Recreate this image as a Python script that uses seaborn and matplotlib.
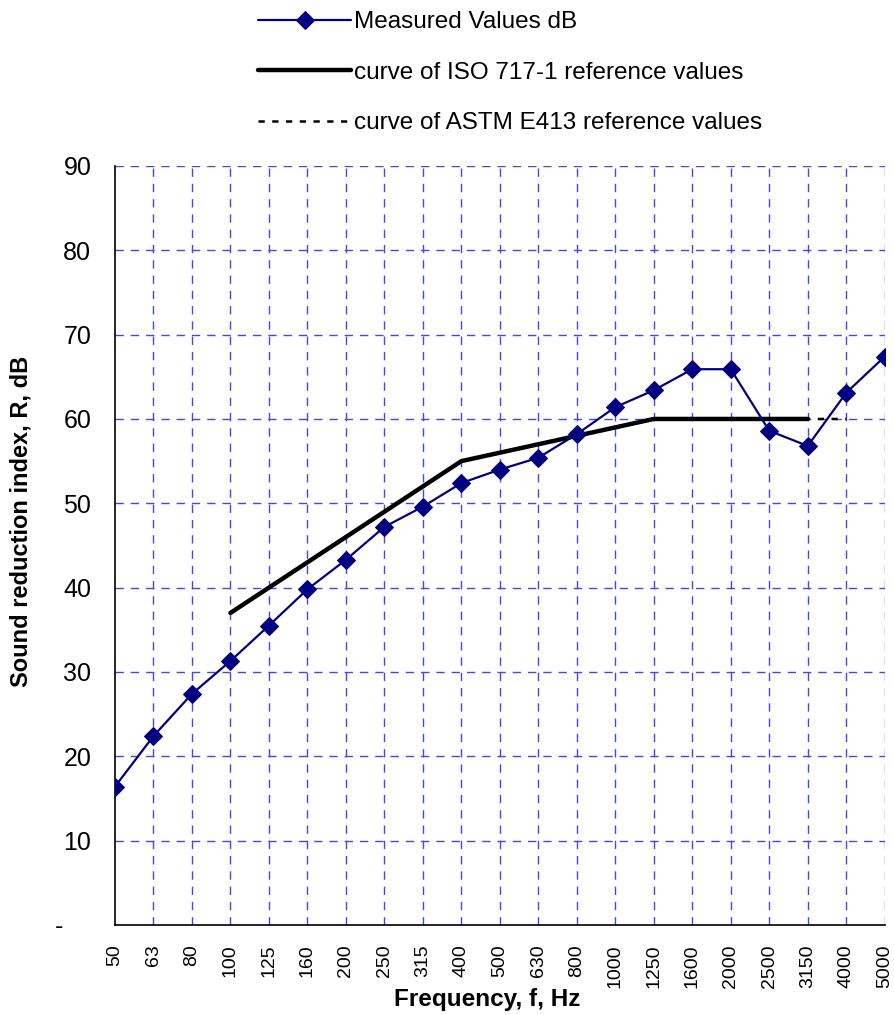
import numpy as np
import pandas as pd
import matplotlib
matplotlib.use("Agg")
import matplotlib.pyplot as plt
import seaborn as sns
from matplotlib.ticker import MultipleLocator

# data
freqs = ["50", "63", "80", "100", "125", "160", "200", "250", "315", "400", "500",
         "630", "800", "1000", "1250", "1600", "2000", "2500", "3150", "4000", "5000"]
measured = [16.4, 22.4, 27.4, 31.3, 35.5, 39.8, 43.3, 47.2, 49.6, 52.4, 54.0,
            55.4, 58.2, 61.4, 63.4, 65.9, 65.9, 58.6, 56.8, 63.1, 67.4]

iso_freqs = ["100", "125", "160", "200", "250", "315", "400", "500", "630", "800",
             "1000", "1250", "1600", "2000", "2500", "3150"]
iso_values = [37, 40, 43, 46, 49, 52, 55, 56, 57, 58, 59, 60, 60, 60, 60, 60]

astm_freqs = ["125", "160", "200", "250", "315", "400", "500", "630", "800", "1000",
              "1250", "1600", "2000", "2500", "3150", "4000"]
astm_values = [40, 43, 46, 49, 52, 55, 56, 57, 58, 59, 60, 60, 60, 60, 60, 60]

y_ticks = [0, 10, 20, 30, 40, 50, 60, 70, 80, 90]
y_labels = ["-    ", "10", "20", "30", "40", "50", "60", "70", "80", "90"]


def to_frame(labels, values):
    pos = [freqs.index(f) for f in labels]
    return pd.DataFrame({"pos": pos, "value": values})


df_meas = to_frame(freqs, measured)
df_iso = to_frame(iso_freqs, iso_values)
df_astm = to_frame(astm_freqs, astm_values)

sns.set_style("white")
plt.rcParams["font.family"] = ["Liberation Sans", "DejaVu Sans"]
plt.rcParams["text.color"] = "black"
plt.rcParams["xtick.color"] = "black"
plt.rcParams["ytick.color"] = "black"
plt.rcParams["xtick.labelcolor"] = "black"
plt.rcParams["ytick.labelcolor"] = "black"

fig = plt.figure(figsize=(8.94, 10.15), dpi=100)
ax = fig.add_axes([0.1286, 0.0887, 0.861, 0.7478])

grid_color = "#4646e6"
for i in range(1, len(freqs)):
    ax.axvline(i, color=grid_color, lw=1, ls=(0, (6, 5)), zorder=0)
for y in y_ticks[1:]:
    ax.axhline(y, color=grid_color, lw=1, ls=(0, (6, 5)), zorder=0)

sns.lineplot(data=df_iso, x="pos", y="value", ax=ax, color="black", lw=3.2,
             label="curve of ISO 717-1 reference values", zorder=3)
sns.lineplot(data=df_astm, x="pos", y="value", ax=ax, color="black", lw=1.8,
             ls=(0, (2.5, 3)), label="curve of ASTM E413 reference values", zorder=3)
sns.lineplot(data=df_meas, x="pos", y="value", ax=ax, color="#000080", lw=1.6,
             marker="D", markersize=9, markeredgecolor="#000080",
             label="Measured Values dB", zorder=4)

ax.set_xlim(0, len(freqs) - 1)
ax.set_ylim(0, 90)
ax.set_xticks(range(len(freqs)))
ax.set_xticklabels(freqs, rotation=90, family=["Liberation Sans Narrow", "Liberation Sans"],
                   fontsize=14)
ax.xaxis.set_minor_locator(MultipleLocator(0.5))
ax.set_yticks(y_ticks)
ax.set_yticklabels(y_labels, fontsize=18)
ax.yaxis.set_minor_locator(MultipleLocator(2))

ax.tick_params(axis="both", which="both", direction="in")
ax.tick_params(axis="x", which="major", length=0, pad=14)
ax.tick_params(axis="x", which="minor", length=5, width=1)
ax.tick_params(axis="y", which="major", length=0, pad=17)
ax.tick_params(axis="y", which="minor", length=5, width=1)

for side in ["top", "right"]:
    ax.spines[side].set_visible(False)
for side in ["left", "bottom"]:
    ax.spines[side].set_color("black")
    ax.spines[side].set_linewidth(1.2)

ax.set_xlabel("")
ax.set_ylabel("")
fig.text(0.545, 0.004, "Frequency, f, Hz", ha="center", va="bottom",
         fontsize=17.5, fontweight="bold")
fig.text(0.024, 0.486, "Sound reduction index, R, dB", ha="center", va="center",
         rotation=90, fontsize=17, fontweight="bold")

handles, labels = ax.get_legend_handles_labels()
order = [labels.index("Measured Values dB"),
         labels.index("curve of ISO 717-1 reference values"),
         labels.index("curve of ASTM E413 reference values")]
ax.get_legend().remove()
fig.legend([handles[i] for i in order], [labels[i] for i in order],
           loc="upper left", bbox_to_anchor=(0.289, 0.989), frameon=False,
           fontsize=17.5, handlelength=3.8, handletextpad=0.12, labelspacing=1.17,
           borderpad=0, borderaxespad=0)

fig.savefig("out.png", dpi=100)
